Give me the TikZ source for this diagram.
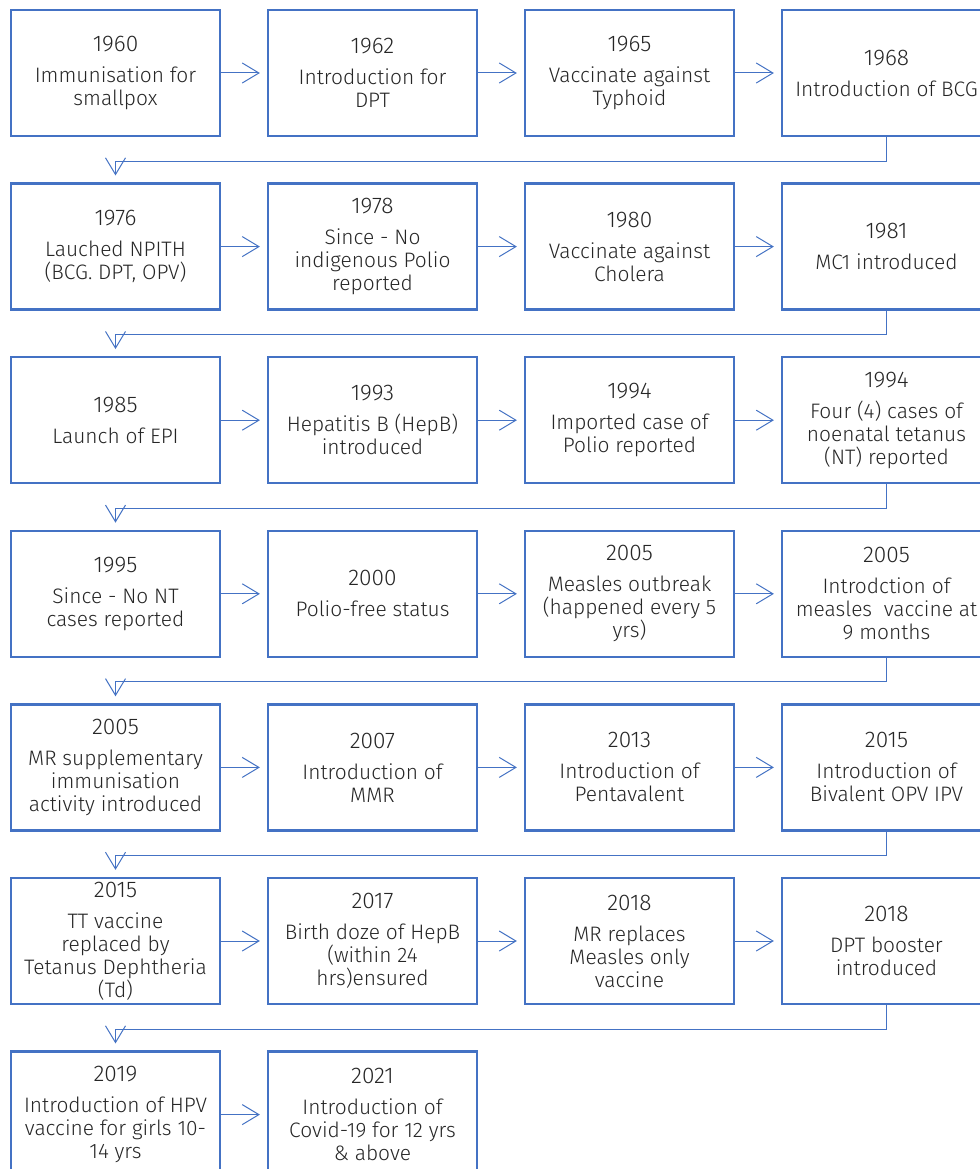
\documentclass[tikz,border=0pt]{standalone}
\usepackage{fontspec}
\setmainfont{Fira Sans}[UprightFont=* Light]
\usetikzlibrary{arrows.meta}
\definecolor{boxblue}{HTML}{4472C4}
\definecolor{txt}{HTML}{262626}
\tikzset{
  ev/.style={draw=boxblue, line width=1.7pt, minimum width=156.75pt, minimum height=94.5pt,
    inner sep=0pt, align=center, text=txt, font=\fontsize{15.7}{17.25}\selectfont},
  conn/.style={draw=boxblue, line width=0.75pt, -{Straight Barb[length=12.5pt,width=15pt,line width=0.75pt]}}
}
\newcommand{\ev}[2]{{\fontsize{17}{17.25}\selectfont #1}\\[6pt]#2}
\begin{document}
\begin{tikzpicture}[x=0.75pt,y=-0.75pt]
\useasboundingbox (0,0) rectangle (980,1169);
\clip (0,0) rectangle (980,1169);
\fill[white] (0,0) rectangle (980,1169);
% rows: centers y = 73 + k*173.6 ; columns centers x = 115.5, 372.5, 629.5, 886.5
\node[ev] (a1) at (115.5,73) {\ev{1960}{Immunisation for\\smallpox}};
\node[ev] (a2) at (372.5,73) {\ev{1962}{Introduction for\\DPT}};
\node[ev] (a3) at (629.5,73) {\ev{1965}{Vaccinate against\\Typhoid}};
\node[ev] (a4) at (886.5,73) {\ev{1968}{Introduction of BCG}};

\node[ev] (b1) at (115.5,246.6) {\ev{1976}{Lauched NPITH\\(BCG. DPT, OPV)}};
\node[ev] (b2) at (372.5,246.6) {\ev{1978}{Since - No\\indigenous Polio\\reported}};
\node[ev] (b3) at (629.5,246.6) {\ev{1980}{Vaccinate against\\Cholera}};
\node[ev] (b4) at (886.5,246.6) {\ev{1981}{MC1 introduced}};

\node[ev] (c1) at (115.5,420.2) {\ev{1985}{Launch of EPI}};
\node[ev] (c2) at (372.5,420.2) {\ev{1993}{Hepatitis B (HepB)\\introduced}};
\node[ev] (c3) at (629.5,420.2) {\ev{1994}{Imported case of\\Polio reported}};
\node[ev] (c4) at (886.5,420.2) {\ev{1994}{Four (4) cases of\\noenatal tetanus\\(NT) reported}};

\node[ev] (d1) at (115.5,593.8) {\ev{1995}{Since - No NT\\cases reported}};
\node[ev] (d2) at (372.5,593.8) {\ev{2000}{Polio-free status}};
\node[ev] (d3) at (629.5,593.8) {\ev{2005}{Measles outbreak\\(happened every 5\\yrs)}};
\node[ev] (d4) at (886.5,593.8) {\ev{2005}{Introdction of\\measles\ \ vaccine at\\9 months}};

\node[ev] (e1) at (115.5,767.4) {\ev{2005}{MR supplementary\\immunisation\\activity introduced}};
\node[ev] (e2) at (372.5,767.4) {\ev{2007}{Introduction of\\MMR}};
\node[ev] (e3) at (629.5,767.4) {\ev{2013}{Introduction of\\Pentavalent}};
\node[ev] (e4) at (886.5,767.4) {\ev{2015}{Introduction of\\Bivalent OPV IPV}};

\node[ev] (f1) at (115.5,941) {\ev{2015}{TT vaccine\\replaced by\\Tetanus Dephtheria\\(Td)}};
\node[ev] (f2) at (372.5,941) {\ev{2017}{Birth doze of HepB\\(within 24\\hrs)ensured}};
\node[ev] (f3) at (629.5,941) {\ev{2018}{MR replaces\\Measles only\\vaccine}};
\node[ev] (f4) at (886.5,941) {\ev{2018}{DPT booster\\introduced}};

\node[ev] (g1) at (115.5,1114.6) {\ev{2019}{Introduction of HPV\\vaccine for girls 10-\\14 yrs}};
\node[ev] (g2) at (372.5,1114.6) {\ev{2021}{Introduction of\\Covid-19 for 12 yrs\\\& above}};

% horizontal connectors
\foreach \r in {a,b,c,d,e,f}{
  \draw[conn] (\r1.east) -- ([xshift=-5.25pt]\r2.west);
  \draw[conn] (\r2.east) -- ([xshift=-5.25pt]\r3.west);
  \draw[conn] (\r3.east) -- ([xshift=-5.25pt]\r4.west);
}
\draw[conn] (g1.east) -- ([xshift=-5.25pt]g2.west);

% row-to-row connectors
\draw[conn] (a4.south) -- ++(0,24) -| ([yshift=5.25pt]b1.north);
\draw[conn] (b4.south) -- ++(0,24) -| ([yshift=5.25pt]c1.north);
\draw[conn] (c4.south) -- ++(0,24) -| ([yshift=5.25pt]d1.north);
\draw[conn] (d4.south) -- ++(0,24) -| ([yshift=5.25pt]e1.north);
\draw[conn] (e4.south) -- ++(0,24) -| ([yshift=5.25pt]f1.north);
\draw[conn] (f4.south) -- ++(0,24) -| ([yshift=5.25pt]g1.north);
\end{tikzpicture}
\end{document}
